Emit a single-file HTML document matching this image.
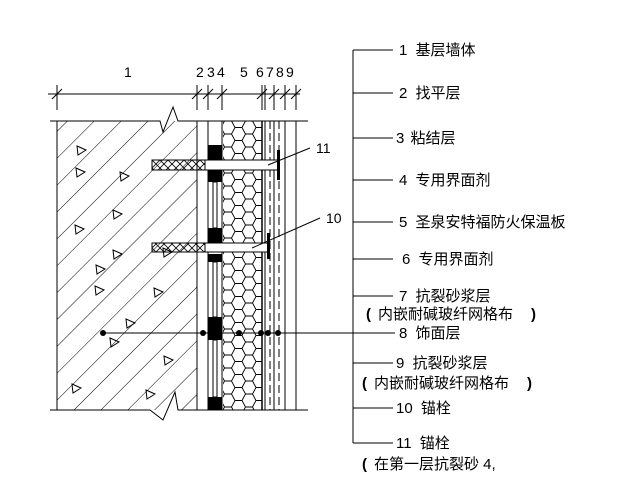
<!DOCTYPE html>
<html><head><meta charset="utf-8"><style>
html,body{margin:0;padding:0;background:#fff}
text{font-family:"Liberation Sans","Noto Sans CJK SC",sans-serif;fill:#000}
</style></head><body>
<svg width="617" height="489" viewBox="0 0 617 489" xmlns="http://www.w3.org/2000/svg">
<defs>
<pattern id="hex" x="221" y="121" width="21" height="13" patternUnits="userSpaceOnUse">
<path d="M0,6.5 L3.5,0 L10.5,0 L14,6.5 L10.5,13 L3.5,13 Z M14,6.5 L21,6.5" fill="none" stroke="#000" stroke-width="0.9"/>
</pattern>
<pattern id="diag" x="0" y="0" width="19" height="19" patternUnits="userSpaceOnUse" patternTransform="rotate(-45)">
<line x1="0" y1="0" x2="19" y2="0" stroke="#000" stroke-width="1"/>
</pattern>
<pattern id="xh" x="0" y="0" width="8" height="8" patternUnits="userSpaceOnUse">
<path d="M0,0 L8,8 M8,0 L0,8" stroke="#000" stroke-width="0.8"/>
</pattern>
</defs>
<g stroke="#000" fill="none" stroke-width="1">
<line x1="48" y1="94" x2="300" y2="94"/>
<g>
<line x1="57" y1="85" x2="57" y2="110"/><line x1="52" y1="99" x2="62" y2="89"/>
<line x1="197" y1="85" x2="197" y2="110"/><line x1="192" y1="99" x2="202" y2="89"/>
<line x1="208" y1="85" x2="208" y2="110"/><line x1="203" y1="99" x2="213" y2="89"/>
<line x1="222" y1="85" x2="222" y2="110"/><line x1="217" y1="99" x2="227" y2="89"/>
<line x1="262" y1="85" x2="262" y2="110"/><line x1="257" y1="99" x2="267" y2="89"/>
<line x1="265" y1="85" x2="265" y2="110"/>
<line x1="274" y1="85" x2="274" y2="110"/><line x1="269" y1="99" x2="279" y2="89"/>
<line x1="285" y1="85" x2="285" y2="110"/><line x1="280" y1="99" x2="290" y2="89"/>
<line x1="296" y1="85" x2="296" y2="110"/><line x1="291" y1="99" x2="301" y2="89"/>
</g>
<rect x="57" y="121" width="140" height="289" fill="url(#diag)" stroke="none"/>
<line x1="57" y1="121" x2="57" y2="410"/>
<path d="M50,121 L160,121 L163,132 L173,107 L178,121 L308,121"/>
<path d="M50,410 L150,410 L163,420 L175,392 L178,410 L308,410"/>
<rect x="223" y="121" width="39" height="289" fill="url(#hex)" stroke="none"/>
<line x1="197" y1="121" x2="197" y2="410"/>
<line x1="208" y1="121" x2="208" y2="410"/>
<line x1="222" y1="121" x2="222" y2="410"/>
<line x1="262" y1="121" x2="262" y2="410" stroke-width="1.5"/>
<line x1="265" y1="121" x2="265" y2="410"/>
<line x1="270" y1="121" x2="270" y2="410" stroke-dasharray="8,4"/>
<line x1="274" y1="121" x2="274" y2="410"/>
<line x1="279" y1="121" x2="279" y2="410" stroke-dasharray="8,4"/>
<line x1="285" y1="121" x2="285" y2="410"/>
<line x1="296" y1="121" x2="296" y2="410"/>
</g>
<g fill="#000">
<rect x="208" y="145" width="14" height="15"/>
<rect x="208" y="170" width="14" height="12"/>
<rect x="208" y="228" width="14" height="16"/>
<rect x="208" y="254" width="14" height="8"/>
<rect x="208" y="317" width="14" height="23"/>
<rect x="208" y="397" width="14" height="13"/>
</g>
<g fill="#fff" stroke="#000">
<rect x="213" y="182" width="4" height="46"/>
<rect x="213" y="262" width="4" height="55"/>
<rect x="213" y="340" width="4" height="57"/>
</g>
<g fill="none" stroke="#000" stroke-width="1">
<path d="M77,146 l9,4 l-8,5z M76,168 l9,4 l-8,5z M120,172 l9,4 l-8,5z M113,210 l9,4 l-8,5z M95,286 l9,4 l-8,5z M163,248 l9,4 l-8,5z M126,319 l9,4 l-8,5z M110,338 l9,4 l-8,5z M164,356 l9,4 l-8,5z M72,384 l9,4 l-8,5z M146,390 l9,4 l-8,5z M96,265 l9,4 l-8,5z M154,288 l9,4 l-8,5z M75,225 l9,4 l-8,5z M113,250 l9,4 l-8,5z"/>
</g>
<rect x="152" y="160" width="53" height="10" fill="url(#xh)" stroke="#000"/>
<rect x="205" y="160" width="74" height="10" fill="#fff" stroke="#000"/>
<rect x="277" y="150" width="3" height="30" fill="#000"/>
<rect x="152" y="243" width="53" height="9" fill="url(#xh)" stroke="#000"/>
<rect x="205" y="243" width="63" height="9" fill="#fff" stroke="#000"/>
<rect x="267" y="233" width="3" height="26" fill="#000"/>
<line x1="268" y1="165" x2="310" y2="148" stroke="#000"/>
<line x1="252" y1="248" x2="320" y2="218" stroke="#000"/>
<line x1="103" y1="333" x2="395" y2="333" stroke="#000"/>
<g fill="#000">
<circle cx="103" cy="333" r="3"/><circle cx="203" cy="333" r="3"/><circle cx="239" cy="333" r="3"/><circle cx="261" cy="333" r="3"/><circle cx="268" cy="333" r="3"/><circle cx="278" cy="333" r="3"/>
</g>
<g font-size="14">
<text x="124" y="77">1</text>
<text x="196" y="77">2</text><text x="207" y="77">3</text><text x="217" y="77">4</text>
<text x="240" y="77">5</text>
<text x="256" y="77">6</text><text x="266" y="77">7</text><text x="276" y="77">8</text><text x="286" y="77">9</text>
<text x="316" y="153">11</text>
<text x="326" y="223">10</text>
</g>
<g stroke="#000">
<line x1="353" y1="50" x2="353" y2="443"/>
<line x1="353" y1="50" x2="393" y2="50"/>
<line x1="353" y1="93" x2="393" y2="93"/>
<line x1="353" y1="138" x2="393" y2="138"/>
<line x1="353" y1="180" x2="393" y2="180"/>
<line x1="353" y1="222" x2="393" y2="222"/>
<line x1="353" y1="259" x2="393" y2="259"/>
<line x1="353" y1="296" x2="393" y2="296"/>
<line x1="353" y1="363" x2="393" y2="363"/>
<line x1="353" y1="408" x2="393" y2="408"/>
<line x1="353" y1="443" x2="393" y2="443"/>
</g>
<g font-size="15">
<text x="399" y="55">1 <tspan dx="4">基层墙体</tspan></text>
<text x="399" y="98">2 <tspan dx="4">找平层</tspan></text>
<text x="396" y="143">3 <tspan dx="2">粘结层</tspan></text>
<text x="399" y="185">4 <tspan dx="4">专用界面剂</tspan></text>
<text x="399" y="227">5 <tspan dx="4">圣泉安特福防火保温板</tspan></text>
<text x="402" y="264">6 <tspan dx="4">专用界面剂</tspan></text>
<text x="399" y="301">7 <tspan dx="4">抗裂砂浆层</tspan></text>
<text x="366" y="319" font-weight="bold">(</text><text x="378" y="319">内嵌耐碱玻纤网格布</text><text x="531" y="319" font-weight="bold">)</text>
<text x="399" y="338">8 <tspan dx="4">饰面层</tspan></text>
<text x="396" y="368">9 <tspan dx="4">抗裂砂浆层</tspan></text>
<text x="362" y="388" font-weight="bold">(</text><text x="374" y="388">内嵌耐碱玻纤网格布</text><text x="527" y="388" font-weight="bold">)</text>
<text x="396" y="413">10 <tspan dx="4">锚栓</tspan></text>
<text x="396" y="448">11 <tspan dx="4">锚栓</tspan></text>
<text x="362" y="469" font-weight="bold">(</text><text x="374" y="469">在第一层抗裂砂 4,</text>
</g>
</svg>
</body></html>
